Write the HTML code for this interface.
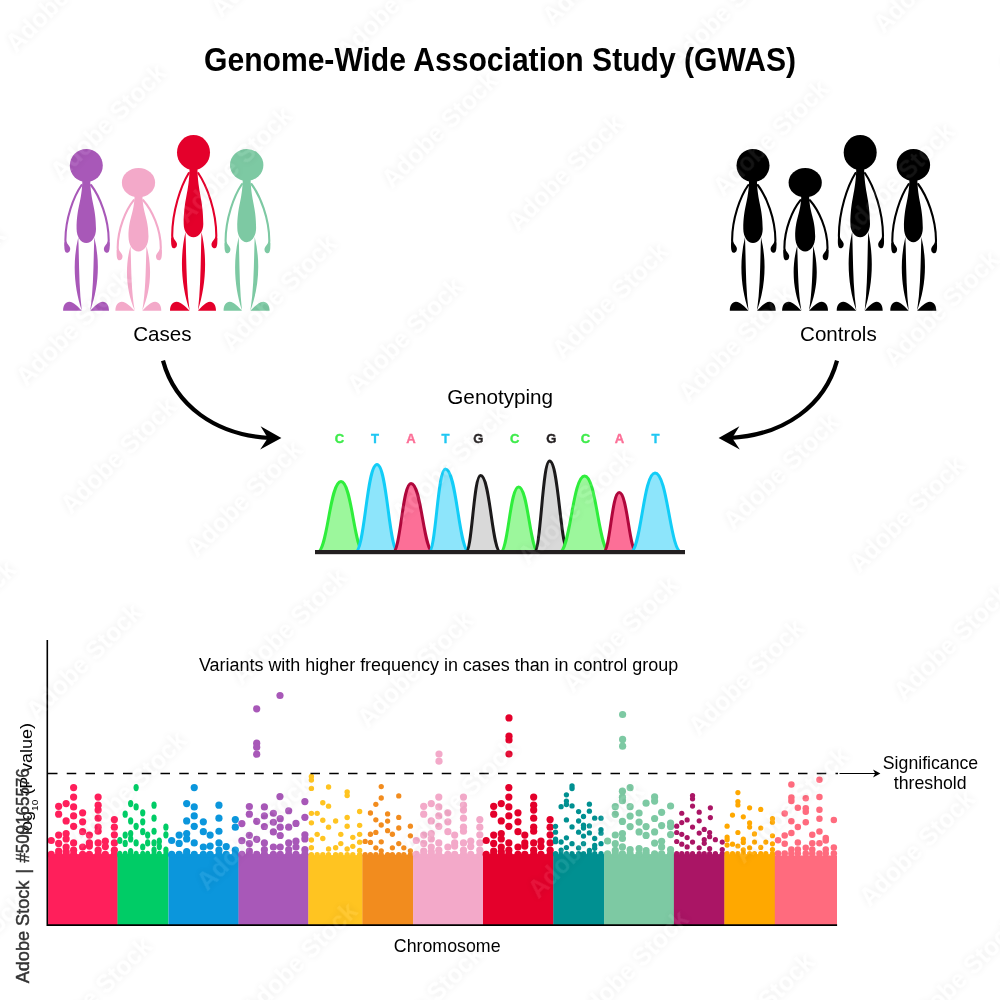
<!DOCTYPE html>
<html lang="en"><head><meta charset="utf-8"><title>Genome-Wide Association Study (GWAS)</title>
<style>html,body{margin:0;padding:0;background:#fff}body{width:1000px;height:1000px;overflow:hidden}svg{display:block}text{font-family:'Liberation Sans', sans-serif}</style></head><body>
<svg width="1000" height="1000" viewBox="0 0 1000 1000">
<rect width="1000" height="1000" fill="#fff"/>
<text x="500" y="70.7" font-size="33" font-weight="bold" text-anchor="middle" fill="#000" textLength="592" lengthAdjust="spacingAndGlyphs">Genome-Wide Association Study (GWAS)</text>
<g fill="#A858B8"><ellipse cx="86.3" cy="165.5" rx="16.5" ry="16.5"/><path d="M82.4,180 C81.9,202.05 76.6,206.95 76.6,229 C76.6,236.84 80.87,243 86.3,243 C91.73,243 96,236.84 96,229 C96,206.95 90.7,202.05 90.2,180 Z"/><path d="M81.6,185 C73.5,196.55 65.5,218.55 65.4,240 L65.7,245.5" fill="none" stroke="#A858B8" stroke-width="2.1" stroke-linecap="round"/><path d="M64.45,242.5 C64.15,247.5 64.25,252.8 67.05,252.8 C69.45,252.8 70.65,250 70.05,247.7 C69.45,245.5 67.05,244 66.35,241.5 Z"/><path d="M91,185 C99.9,196.55 108.6,218.55 108.7,240 L108.4,245.5" fill="none" stroke="#A858B8" stroke-width="2.1" stroke-linecap="round"/><path d="M109.65,242.5 C109.95,247.5 109.85,252.8 107.05,252.8 C104.65,252.8 103.45,250 104.05,247.7 C104.65,245.5 107.05,244 107.75,241.5 Z"/><path d="M78.3,237.3 C72,262.86 74.5,289.28 81.8,310.4 C78.8,286.42 79.2,260.72 78.3,237.3 Z"/><path d="M63.1,310.7 C63.1,305.2 65.53,301.7 69.27,301.7 C73.95,301.7 78.06,307.1 81.8,310.7 Z"/><path d="M94.3,237.3 C100.6,262.86 98.1,289.28 90.3,310.4 C93.8,286.42 93.4,260.72 94.3,237.3 Z"/><path d="M109,310.7 C109,305.2 106.57,301.7 102.83,301.7 C98.15,301.7 94.04,307.1 90.3,310.7 Z"/></g><g fill="#F3A9C9"><ellipse cx="138.5" cy="182.7" rx="16.6" ry="14.7"/><path d="M134.6,195.4 C134.1,213.9 128.5,218 128.5,236.5 C128.5,244.9 132.9,251.5 138.5,251.5 C144.1,251.5 148.5,244.9 148.5,236.5 C148.5,218 142.9,213.9 142.4,195.4 Z"/><path d="M133.8,200.2 C125.7,210.13 117.8,229.05 117.7,247.5 L118,253" fill="none" stroke="#F3A9C9" stroke-width="2.1" stroke-linecap="round"/><path d="M116.75,250 C116.45,255 116.55,260.3 119.35,260.3 C121.75,260.3 122.95,257.5 122.35,255.2 C121.75,253 119.35,251.5 118.65,249 Z"/><path d="M143.2,200.2 C152.1,210.13 160.7,229.05 160.8,247.5 L160.5,253" fill="none" stroke="#F3A9C9" stroke-width="2.1" stroke-linecap="round"/><path d="M161.75,250 C162.05,255 161.95,260.3 159.15,260.3 C156.75,260.3 155.55,257.5 156.15,255.2 C156.75,253 159.15,251.5 159.85,249 Z"/><path d="M130.5,246 C124.2,268.69 126.7,291.89 134.7,310.4 C131,289.38 131.4,266.81 130.5,246 Z"/><path d="M115.4,310.7 C115.4,305.2 117.91,301.7 121.77,301.7 C126.59,301.7 130.84,307.1 134.7,310.7 Z"/><path d="M146.5,246 C152.8,268.69 150.3,291.89 142.3,310.4 C146,289.38 145.6,266.81 146.5,246 Z"/><path d="M161.3,310.7 C161.3,305.2 158.83,301.7 155.03,301.7 C150.28,301.7 146.1,307.1 142.3,310.7 Z"/></g><g fill="#E4002B"><ellipse cx="193.5" cy="152.5" rx="16.5" ry="17.5"/><path d="M189.6,168 C189.1,193.2 183.7,198.8 183.7,224 C183.7,231.39 188.01,237.2 193.5,237.2 C198.99,237.2 203.3,231.39 203.3,224 C203.3,198.8 197.9,193.2 197.4,168 Z"/><path d="M188.8,173 C180.7,186.12 172.3,211.12 172.2,235.5 L172.5,241" fill="none" stroke="#E4002B" stroke-width="2.1" stroke-linecap="round"/><path d="M171.25,238 C170.95,243 171.05,248.3 173.85,248.3 C176.25,248.3 177.45,245.5 176.85,243.2 C176.25,241 173.85,239.5 173.15,237 Z"/><path d="M198.2,173 C207.1,186.12 216.2,211.12 216.3,235.5 L216,241" fill="none" stroke="#E4002B" stroke-width="2.1" stroke-linecap="round"/><path d="M217.25,238 C217.55,243 217.45,248.3 214.65,248.3 C212.25,248.3 211.05,245.5 211.65,243.2 C212.25,241 214.65,239.5 215.35,237 Z"/><path d="M185.5,232 C179.2,259.31 181.7,287.69 189.6,310.4 C186,284.62 186.4,257.01 185.5,232 Z"/><path d="M170,310.7 C170,305.2 172.55,301.7 176.47,301.7 C181.37,301.7 185.68,307.1 189.6,310.7 Z"/><path d="M201.5,232 C207.8,259.31 205.3,287.69 198,310.4 C201,284.62 200.6,257.01 201.5,232 Z"/><path d="M216,310.7 C216,305.2 213.66,301.7 210.06,301.7 C205.56,301.7 201.6,307.1 198,310.7 Z"/></g><g fill="#7DC9A3"><ellipse cx="246.7" cy="165" rx="16.7" ry="16"/><path d="M242.8,179 C242.3,201.05 237.3,205.95 237.3,228 C237.3,235.95 241.44,242.2 246.7,242.2 C251.96,242.2 256.1,235.95 256.1,228 C256.1,205.95 251.1,201.05 250.6,179 Z"/><path d="M242,184 C233.9,195.87 225.7,218.47 225.6,240.5 L225.9,246" fill="none" stroke="#7DC9A3" stroke-width="2.1" stroke-linecap="round"/><path d="M224.65,243 C224.35,248 224.45,253.3 227.25,253.3 C229.65,253.3 230.85,250.5 230.25,248.2 C229.65,246 227.25,244.5 226.55,242 Z"/><path d="M251.4,184 C260.3,195.87 269.2,218.47 269.3,240.5 L269,246" fill="none" stroke="#7DC9A3" stroke-width="2.1" stroke-linecap="round"/><path d="M270.25,243 C270.55,248 270.45,253.3 267.65,253.3 C265.25,253.3 264.05,250.5 264.65,248.2 C265.25,246 267.65,244.5 268.35,242 Z"/><path d="M238.7,237 C232.4,262.66 234.9,289.19 242,310.4 C239.2,286.32 239.6,260.51 238.7,237 Z"/><path d="M223.6,310.7 C223.6,305.2 225.99,301.7 229.67,301.7 C234.27,301.7 238.32,307.1 242,310.7 Z"/><path d="M254.7,237 C261,262.66 258.5,289.19 250.4,310.4 C254.2,286.32 253.8,260.51 254.7,237 Z"/><path d="M269.6,310.7 C269.6,305.2 267.1,301.7 263.26,301.7 C258.46,301.7 254.24,307.1 250.4,310.7 Z"/></g>
<g fill="#000"><ellipse cx="753" cy="165.5" rx="16.5" ry="16.5"/><path d="M749.1,180 C748.6,202.05 743.3,206.95 743.3,229 C743.3,236.84 747.57,243 753,243 C758.43,243 762.7,236.84 762.7,229 C762.7,206.95 757.4,202.05 756.9,180 Z"/><path d="M748.3,185 C740.2,196.55 732.2,218.55 732.1,240 L732.4,245.5" fill="none" stroke="#000" stroke-width="2.1" stroke-linecap="round"/><path d="M731.15,242.5 C730.85,247.5 730.95,252.8 733.75,252.8 C736.15,252.8 737.35,250 736.75,247.7 C736.15,245.5 733.75,244 733.05,241.5 Z"/><path d="M757.7,185 C766.6,196.55 775.3,218.55 775.4,240 L775.1,245.5" fill="none" stroke="#000" stroke-width="2.1" stroke-linecap="round"/><path d="M776.35,242.5 C776.65,247.5 776.55,252.8 773.75,252.8 C771.35,252.8 770.15,250 770.75,247.7 C771.35,245.5 773.75,244 774.45,241.5 Z"/><path d="M745,237.3 C738.7,262.86 741.2,289.28 748.5,310.4 C745.5,286.42 745.9,260.72 745,237.3 Z"/><path d="M729.8,310.7 C729.8,305.2 732.23,301.7 735.97,301.7 C740.65,301.7 744.76,307.1 748.5,310.7 Z"/><path d="M761,237.3 C767.3,262.86 764.8,289.28 757,310.4 C760.5,286.42 760.1,260.72 761,237.3 Z"/><path d="M775.7,310.7 C775.7,305.2 773.27,301.7 769.53,301.7 C764.85,301.7 760.74,307.1 757,310.7 Z"/></g><g fill="#000"><ellipse cx="805.2" cy="182.7" rx="16.6" ry="14.7"/><path d="M801.3,195.4 C800.8,213.9 795.2,218 795.2,236.5 C795.2,244.9 799.6,251.5 805.2,251.5 C810.8,251.5 815.2,244.9 815.2,236.5 C815.2,218 809.6,213.9 809.1,195.4 Z"/><path d="M800.5,200.2 C792.4,210.13 784.5,229.05 784.4,247.5 L784.7,253" fill="none" stroke="#000" stroke-width="2.1" stroke-linecap="round"/><path d="M783.45,250 C783.15,255 783.25,260.3 786.05,260.3 C788.45,260.3 789.65,257.5 789.05,255.2 C788.45,253 786.05,251.5 785.35,249 Z"/><path d="M809.9,200.2 C818.8,210.13 827.4,229.05 827.5,247.5 L827.2,253" fill="none" stroke="#000" stroke-width="2.1" stroke-linecap="round"/><path d="M828.45,250 C828.75,255 828.65,260.3 825.85,260.3 C823.45,260.3 822.25,257.5 822.85,255.2 C823.45,253 825.85,251.5 826.55,249 Z"/><path d="M797.2,246 C790.9,268.69 793.4,291.89 801.4,310.4 C797.7,289.38 798.1,266.81 797.2,246 Z"/><path d="M782.1,310.7 C782.1,305.2 784.61,301.7 788.47,301.7 C793.29,301.7 797.54,307.1 801.4,310.7 Z"/><path d="M813.2,246 C819.5,268.69 817,291.89 809,310.4 C812.7,289.38 812.3,266.81 813.2,246 Z"/><path d="M828,310.7 C828,305.2 825.53,301.7 821.73,301.7 C816.98,301.7 812.8,307.1 809,310.7 Z"/></g><g fill="#000"><ellipse cx="860.2" cy="152.5" rx="16.5" ry="17.5"/><path d="M856.3,168 C855.8,193.2 850.4,198.8 850.4,224 C850.4,231.39 854.71,237.2 860.2,237.2 C865.69,237.2 870,231.39 870,224 C870,198.8 864.6,193.2 864.1,168 Z"/><path d="M855.5,173 C847.4,186.12 839,211.12 838.9,235.5 L839.2,241" fill="none" stroke="#000" stroke-width="2.1" stroke-linecap="round"/><path d="M837.95,238 C837.65,243 837.75,248.3 840.55,248.3 C842.95,248.3 844.15,245.5 843.55,243.2 C842.95,241 840.55,239.5 839.85,237 Z"/><path d="M864.9,173 C873.8,186.12 882.9,211.12 883,235.5 L882.7,241" fill="none" stroke="#000" stroke-width="2.1" stroke-linecap="round"/><path d="M883.95,238 C884.25,243 884.15,248.3 881.35,248.3 C878.95,248.3 877.75,245.5 878.35,243.2 C878.95,241 881.35,239.5 882.05,237 Z"/><path d="M852.2,232 C845.9,259.31 848.4,287.69 856.3,310.4 C852.7,284.62 853.1,257.01 852.2,232 Z"/><path d="M836.7,310.7 C836.7,305.2 839.25,301.7 843.17,301.7 C848.07,301.7 852.38,307.1 856.3,310.7 Z"/><path d="M868.2,232 C874.5,259.31 872,287.69 864.7,310.4 C867.7,284.62 867.3,257.01 868.2,232 Z"/><path d="M882.7,310.7 C882.7,305.2 880.36,301.7 876.76,301.7 C872.26,301.7 868.3,307.1 864.7,310.7 Z"/></g><g fill="#000"><ellipse cx="913.4" cy="165" rx="16.7" ry="16"/><path d="M909.5,179 C909,201.05 904,205.95 904,228 C904,235.95 908.14,242.2 913.4,242.2 C918.66,242.2 922.8,235.95 922.8,228 C922.8,205.95 917.8,201.05 917.3,179 Z"/><path d="M908.7,184 C900.6,195.87 892.4,218.47 892.3,240.5 L892.6,246" fill="none" stroke="#000" stroke-width="2.1" stroke-linecap="round"/><path d="M891.35,243 C891.05,248 891.15,253.3 893.95,253.3 C896.35,253.3 897.55,250.5 896.95,248.2 C896.35,246 893.95,244.5 893.25,242 Z"/><path d="M918.1,184 C927,195.87 935.9,218.47 936,240.5 L935.7,246" fill="none" stroke="#000" stroke-width="2.1" stroke-linecap="round"/><path d="M936.95,243 C937.25,248 937.15,253.3 934.35,253.3 C931.95,253.3 930.75,250.5 931.35,248.2 C931.95,246 934.35,244.5 935.05,242 Z"/><path d="M905.4,237 C899.1,262.66 901.6,289.19 908.7,310.4 C905.9,286.32 906.3,260.51 905.4,237 Z"/><path d="M890.3,310.7 C890.3,305.2 892.69,301.7 896.37,301.7 C900.97,301.7 905.02,307.1 908.7,310.7 Z"/><path d="M921.4,237 C927.7,262.66 925.2,289.19 917.1,310.4 C920.9,286.32 920.5,260.51 921.4,237 Z"/><path d="M936.3,310.7 C936.3,305.2 933.8,301.7 929.96,301.7 C925.16,301.7 920.94,307.1 917.1,310.7 Z"/></g>
<text x="162.4" y="341.2" font-size="20.6" text-anchor="middle" fill="#000">Cases</text>
<text x="838.4" y="341.2" font-size="20.6" text-anchor="middle" fill="#000">Controls</text>
<text x="500.2" y="403.8" font-size="20.7" text-anchor="middle" fill="#000">Genotyping</text>
<path d="M163,360.6 C175,405 215,435 270,438" fill="none" stroke="#000" stroke-width="4.2"/>
<path d="M281.4,438 L260.6,426.2 L267.8,438 L260.2,449.4 Z" fill="#000"/>
<path d="M837,360.6 C825,405 785,435 730,438" fill="none" stroke="#000" stroke-width="4.2"/>
<path d="M718.6,438 L739.4,426.2 L732.2,438 L739.8,449.4 Z" fill="#000"/>
<path d="M317.2,552.5 C327.67,552.5 329.58,481.5 341,481.5 C352.18,481.5 354.05,552.5 364.3,552.5" fill="#9CF79C" stroke="#2FEE3C" stroke-width="3" stroke-linejoin="round"/>
<path d="M355.2,552.5 C364.79,552.5 366.54,464.5 377,464.5 C387.22,464.5 388.93,552.5 398.3,552.5" fill="#8DE5FB" stroke="#12CDF7" stroke-width="3" stroke-linejoin="round"/>
<path d="M392.7,552.5 C400.75,552.5 402.22,483.5 411,483.5 C421.7,483.5 423.49,552.5 433.3,552.5" fill="#FC6F97" stroke="#B0073C" stroke-width="3" stroke-linejoin="round"/>
<path d="M428.7,552.5 C436.05,552.5 437.38,468.9 445.4,468.9 C456.87,468.9 458.78,552.5 469.3,552.5" fill="#8DE5FB" stroke="#12CDF7" stroke-width="3" stroke-linejoin="round"/>
<path d="M465.7,552.5 C472.26,552.5 473.45,475.5 480.6,475.5 C490.3,475.5 491.91,552.5 500.8,552.5" fill="#D9D9D9" stroke="#1C1A1B" stroke-width="3" stroke-linejoin="round"/>
<path d="M500.2,552.5 C508.3,552.5 509.77,487.1 518.6,487.1 C528.3,487.1 529.91,552.5 538.8,552.5" fill="#9CF79C" stroke="#2FEE3C" stroke-width="3" stroke-linejoin="round"/>
<path d="M534.2,552.5 C540.98,552.5 542.21,461.1 549.6,461.1 C558.82,461.1 560.35,552.5 568.8,552.5" fill="#D9D9D9" stroke="#1C1A1B" stroke-width="3" stroke-linejoin="round"/>
<path d="M559.2,552.5 C570.38,552.5 572.41,475.9 584.6,475.9 C596.7,475.9 598.71,552.5 609.8,552.5" fill="#9CF79C" stroke="#2FEE3C" stroke-width="3" stroke-linejoin="round"/>
<path d="M603.2,552.5 C610.24,552.5 611.52,492.5 619.2,492.5 C627.65,492.5 629.06,552.5 636.8,552.5" fill="#FC6F97" stroke="#B0073C" stroke-width="3" stroke-linejoin="round"/>
<path d="M630.2,552.5 C641.11,552.5 643.1,473.1 655,473.1 C667.86,473.1 670.01,552.5 681.8,552.5" fill="#8DE5FB" stroke="#12CDF7" stroke-width="3" stroke-linejoin="round"/>
<rect x="315" y="550" width="370" height="4.2" fill="#231F20"/>
<text x="339.4" y="442.7" font-size="13.1" font-weight="bold" text-anchor="middle" fill="#3DEB4A" stroke="#3DEB4A" stroke-width="0.35">C</text>
<text x="375" y="442.7" font-size="13.1" font-weight="bold" text-anchor="middle" fill="#1FC7F2" stroke="#1FC7F2" stroke-width="0.35">T</text>
<text x="411" y="442.7" font-size="13.1" font-weight="bold" text-anchor="middle" fill="#FC6F97" stroke="#FC6F97" stroke-width="0.35">A</text>
<text x="445.4" y="442.7" font-size="13.1" font-weight="bold" text-anchor="middle" fill="#1FC7F2" stroke="#1FC7F2" stroke-width="0.35">T</text>
<text x="478.4" y="442.7" font-size="13.1" font-weight="bold" text-anchor="middle" fill="#231F20" stroke="#231F20" stroke-width="0.35">G</text>
<text x="514.8" y="442.7" font-size="13.1" font-weight="bold" text-anchor="middle" fill="#3DEB4A" stroke="#3DEB4A" stroke-width="0.35">C</text>
<text x="551.4" y="442.7" font-size="13.1" font-weight="bold" text-anchor="middle" fill="#231F20" stroke="#231F20" stroke-width="0.35">G</text>
<text x="585.6" y="442.7" font-size="13.1" font-weight="bold" text-anchor="middle" fill="#3DEB4A" stroke="#3DEB4A" stroke-width="0.35">C</text>
<text x="619.4" y="442.7" font-size="13.1" font-weight="bold" text-anchor="middle" fill="#FC6F97" stroke="#FC6F97" stroke-width="0.35">A</text>
<text x="655.4" y="442.7" font-size="13.1" font-weight="bold" text-anchor="middle" fill="#1FC7F2" stroke="#1FC7F2" stroke-width="0.35">T</text>
<text x="438.6" y="671" font-size="17.95" text-anchor="middle" fill="#000">Variants with higher frequency in cases than in control group</text>
<g fill="#FF1F5B"><rect x="48.1" y="854.1" width="69.7" height="70.9"/><circle cx="73.61" cy="787.6" r="3.6"/><circle cx="73.61" cy="797.05" r="3.6"/><circle cx="98.12" cy="797.05" r="3.6"/><circle cx="66.13" cy="803.62" r="3.6"/><circle cx="58.65" cy="806.32" r="3.6"/><circle cx="73.61" cy="806.95" r="3.6"/><circle cx="98.12" cy="805.15" r="3.6"/><circle cx="98.12" cy="810.1" r="3.6"/><circle cx="58.65" cy="814.15" r="3.6"/><circle cx="82.62" cy="812.8" r="3.6"/><circle cx="73.61" cy="815.95" r="3.6"/><circle cx="98.12" cy="818.2" r="3.6"/><circle cx="66.13" cy="820.9" r="3.6"/><circle cx="114.35" cy="819.55" r="3.6"/><circle cx="82.62" cy="821.8" r="3.6"/><circle cx="73.61" cy="826.3" r="3.6"/><circle cx="98.12" cy="827.2" r="3.6"/><circle cx="114.35" cy="827.2" r="3.6"/><circle cx="82.62" cy="831.7" r="3.6"/><circle cx="98.12" cy="831.25" r="3.6"/><circle cx="66.13" cy="833.5" r="3.6"/><circle cx="58.65" cy="835.12" r="3.6"/><circle cx="89.38" cy="835.12" r="3.6"/><circle cx="114.35" cy="834.85" r="3.6"/><circle cx="66.13" cy="838.9" r="3.6"/><circle cx="51.25" cy="840.52" r="3.6"/><circle cx="105.33" cy="841.15" r="3.6"/><circle cx="58.65" cy="843.4" r="3.6"/><circle cx="73.61" cy="842.95" r="3.6"/><circle cx="89.38" cy="842.95" r="3.6"/><circle cx="98.12" cy="842.95" r="3.6"/><circle cx="114.35" cy="842.95" r="3.6"/><circle cx="66.13" cy="847" r="3.6"/><circle cx="82.62" cy="847" r="3.6"/><circle cx="89.38" cy="846.1" r="3.6"/><circle cx="105.33" cy="846.55" r="3.6"/><circle cx="58.65" cy="851.05" r="3.6"/><circle cx="73.61" cy="850.15" r="3.6"/><circle cx="98.12" cy="850.15" r="3.6"/><circle cx="114.35" cy="850.15" r="3.6"/><circle cx="66.13" cy="851.5" r="3.6"/><circle cx="51.25" cy="854.38" r="3.6"/><circle cx="58.65" cy="854.38" r="3.6"/><circle cx="66.13" cy="854.38" r="3.6"/><circle cx="73.61" cy="854.38" r="3.6"/><circle cx="82.62" cy="854.38" r="3.6"/><circle cx="89.38" cy="854.38" r="3.6"/><circle cx="98.12" cy="854.38" r="3.6"/><circle cx="105.33" cy="854.38" r="3.6"/><circle cx="114.35" cy="854.38" r="3.6"/></g>
<g fill="#00CC66"><rect x="117.5" y="854.1" width="51" height="70.9"/><ellipse cx="136.13" cy="787.6" rx="2.63" ry="3.6"/><ellipse cx="130.67" cy="803.62" rx="2.63" ry="3.6"/><ellipse cx="136.13" cy="806.95" rx="2.63" ry="3.6"/><ellipse cx="154.04" cy="805.15" rx="2.63" ry="3.6"/><ellipse cx="125.2" cy="814.15" rx="2.63" ry="3.6"/><ellipse cx="142.72" cy="812.8" rx="2.63" ry="3.6"/><ellipse cx="154.04" cy="818.2" rx="2.63" ry="3.6"/><ellipse cx="130.67" cy="820.9" rx="2.63" ry="3.6"/><ellipse cx="142.72" cy="821.8" rx="2.63" ry="3.6"/><ellipse cx="136.13" cy="826.3" rx="2.63" ry="3.6"/><ellipse cx="165.9" cy="827.2" rx="2.63" ry="3.6"/><ellipse cx="142.72" cy="831.7" rx="2.63" ry="3.6"/><ellipse cx="154.04" cy="831.25" rx="2.63" ry="3.6"/><ellipse cx="130.67" cy="833.5" rx="2.63" ry="3.6"/><ellipse cx="125.2" cy="835.12" rx="2.63" ry="3.6"/><ellipse cx="147.66" cy="835.12" rx="2.63" ry="3.6"/><ellipse cx="165.9" cy="834.85" rx="2.63" ry="3.6"/><ellipse cx="130.67" cy="838.9" rx="2.63" ry="3.6"/><ellipse cx="119.8" cy="840.52" rx="2.63" ry="3.6"/><ellipse cx="159.31" cy="841.15" rx="2.63" ry="3.6"/><ellipse cx="125.2" cy="843.4" rx="2.63" ry="3.6"/><ellipse cx="136.13" cy="842.95" rx="2.63" ry="3.6"/><ellipse cx="147.66" cy="842.95" rx="2.63" ry="3.6"/><ellipse cx="154.04" cy="842.95" rx="2.63" ry="3.6"/><ellipse cx="142.72" cy="847" rx="2.63" ry="3.6"/><ellipse cx="159.31" cy="846.55" rx="2.63" ry="3.6"/><ellipse cx="154.04" cy="850.15" rx="2.63" ry="3.6"/><ellipse cx="165.9" cy="850.15" rx="2.63" ry="3.6"/><ellipse cx="130.67" cy="851.5" rx="2.63" ry="3.6"/><ellipse cx="119.8" cy="854.38" rx="2.63" ry="3.6"/><ellipse cx="125.2" cy="854.38" rx="2.63" ry="3.6"/><ellipse cx="130.67" cy="854.38" rx="2.63" ry="3.6"/><ellipse cx="136.13" cy="854.38" rx="2.63" ry="3.6"/><ellipse cx="142.72" cy="854.38" rx="2.63" ry="3.6"/><ellipse cx="147.66" cy="854.38" rx="2.63" ry="3.6"/><ellipse cx="154.04" cy="854.38" rx="2.63" ry="3.6"/><ellipse cx="159.31" cy="854.38" rx="2.63" ry="3.6"/><ellipse cx="165.9" cy="854.38" rx="2.63" ry="3.6"/></g>
<g fill="#0B96DC"><rect x="168.5" y="854.1" width="70.3" height="70.9"/><circle cx="194.23" cy="787.6" r="3.6"/><circle cx="186.68" cy="803.62" r="3.6"/><circle cx="194.23" cy="806.95" r="3.6"/><circle cx="218.95" cy="805.15" r="3.6"/><circle cx="194.23" cy="815.95" r="3.6"/><circle cx="218.95" cy="818.2" r="3.6"/><circle cx="186.68" cy="820.9" r="3.6"/><circle cx="235.32" cy="819.55" r="3.6"/><circle cx="203.32" cy="821.8" r="3.6"/><circle cx="194.23" cy="826.3" r="3.6"/><circle cx="235.32" cy="827.2" r="3.6"/><circle cx="203.32" cy="831.7" r="3.6"/><circle cx="218.95" cy="831.25" r="3.6"/><circle cx="186.68" cy="833.5" r="3.6"/><circle cx="179.14" cy="835.12" r="3.6"/><circle cx="210.14" cy="835.12" r="3.6"/><circle cx="186.68" cy="838.9" r="3.6"/><circle cx="171.68" cy="840.52" r="3.6"/><circle cx="179.14" cy="843.4" r="3.6"/><circle cx="194.23" cy="842.95" r="3.6"/><circle cx="218.95" cy="842.95" r="3.6"/><circle cx="203.32" cy="847" r="3.6"/><circle cx="210.14" cy="846.1" r="3.6"/><circle cx="226.23" cy="846.55" r="3.6"/><circle cx="218.95" cy="850.15" r="3.6"/><circle cx="235.32" cy="850.15" r="3.6"/><circle cx="186.68" cy="851.5" r="3.6"/><circle cx="171.68" cy="854.38" r="3.6"/><circle cx="179.14" cy="854.38" r="3.6"/><circle cx="186.68" cy="854.38" r="3.6"/><circle cx="194.23" cy="854.38" r="3.6"/><circle cx="203.32" cy="854.38" r="3.6"/><circle cx="210.14" cy="854.38" r="3.6"/><circle cx="218.95" cy="854.38" r="3.6"/><circle cx="226.23" cy="854.38" r="3.6"/><circle cx="235.32" cy="854.38" r="3.6"/></g>
<g fill="#A858B8"><rect x="238.5" y="854.1" width="70.1" height="70.9"/><circle cx="279.95" cy="796.6" r="3.6"/><circle cx="304.88" cy="801.55" r="3.6"/><circle cx="249.35" cy="806.5" r="3.6"/><circle cx="264.38" cy="806.95" r="3.6"/><circle cx="288.68" cy="810.73" r="3.6"/><circle cx="249.35" cy="814.15" r="3.6"/><circle cx="273.38" cy="813.25" r="3.6"/><circle cx="264.38" cy="815.95" r="3.6"/><circle cx="304.88" cy="817.3" r="3.6"/><circle cx="280.22" cy="818.65" r="3.6"/><circle cx="256.73" cy="821.35" r="3.6"/><circle cx="273.38" cy="822.25" r="3.6"/><circle cx="241.88" cy="823.6" r="3.6"/><circle cx="295.97" cy="823.42" r="3.6"/><circle cx="264.38" cy="826.48" r="3.6"/><circle cx="280.22" cy="827.2" r="3.6"/><circle cx="288.68" cy="827.2" r="3.6"/><circle cx="273.38" cy="831.88" r="3.6"/><circle cx="249.35" cy="835.3" r="3.6"/><circle cx="280.22" cy="835.48" r="3.6"/><circle cx="304.88" cy="834.85" r="3.6"/><circle cx="256.73" cy="839.35" r="3.6"/><circle cx="241.88" cy="840.7" r="3.6"/><circle cx="304.88" cy="838.9" r="3.6"/><circle cx="249.35" cy="843.58" r="3.6"/><circle cx="264.38" cy="842.95" r="3.6"/><circle cx="288.68" cy="842.95" r="3.6"/><circle cx="295.97" cy="841.15" r="3.6"/><circle cx="273.38" cy="847" r="3.6"/><circle cx="280.22" cy="847" r="3.6"/><circle cx="295.97" cy="847" r="3.6"/><circle cx="249.35" cy="851.05" r="3.6"/><circle cx="264.38" cy="849.7" r="3.6"/><circle cx="288.68" cy="849.7" r="3.6"/><circle cx="304.88" cy="849.7" r="3.6"/><circle cx="241.88" cy="854.38" r="3.6"/><circle cx="249.35" cy="854.38" r="3.6"/><circle cx="256.73" cy="854.38" r="3.6"/><circle cx="264.38" cy="854.38" r="3.6"/><circle cx="273.38" cy="854.38" r="3.6"/><circle cx="280.22" cy="854.38" r="3.6"/><circle cx="288.68" cy="854.38" r="3.6"/><circle cx="295.97" cy="854.38" r="3.6"/><circle cx="304.88" cy="854.38" r="3.6"/><circle cx="280" cy="695.5" r="3.6"/><circle cx="256.7" cy="708.8" r="3.6"/><circle cx="256.7" cy="743.2" r="3.6"/><circle cx="256.7" cy="747.2" r="3.6"/><circle cx="256.7" cy="754.2" r="3.6"/></g>
<g fill="#FFC421"><rect x="308.3" y="855.1" width="54.4" height="69.9"/><circle cx="311.4" cy="776.4" r="2.7"/><circle cx="311.4" cy="780" r="2.7"/><circle cx="311.4" cy="788.4" r="2.7"/><circle cx="328.56" cy="786.96" r="2.7"/><circle cx="347.16" cy="792" r="2.7"/><circle cx="347.16" cy="795.6" r="2.7"/><circle cx="322.8" cy="802.8" r="2.7"/><circle cx="328.56" cy="806.16" r="2.7"/><circle cx="359.64" cy="811.56" r="2.7"/><circle cx="311.4" cy="813.36" r="2.7"/><circle cx="317.16" cy="813.36" r="2.7"/><circle cx="347.16" cy="817.56" r="2.7"/><circle cx="322.8" cy="820.2" r="2.7"/><circle cx="335.64" cy="821.04" r="2.7"/><circle cx="311.4" cy="822.84" r="2.7"/><circle cx="359.64" cy="825.36" r="2.7"/><circle cx="347.16" cy="826.2" r="2.7"/><circle cx="328.56" cy="827.16" r="2.7"/><circle cx="317.16" cy="834.36" r="2.7"/><circle cx="340.8" cy="834.36" r="2.7"/><circle cx="359.64" cy="834.36" r="2.7"/><circle cx="352.8" cy="837.36" r="2.7"/><circle cx="322.8" cy="838.44" r="2.7"/><circle cx="311.4" cy="840" r="2.7"/><circle cx="359.64" cy="842.16" r="2.7"/><circle cx="340.8" cy="843.6" r="2.7"/><circle cx="352.8" cy="846.36" r="2.7"/><circle cx="311.4" cy="847.8" r="2.7"/><circle cx="335.64" cy="847.8" r="2.7"/><circle cx="328.56" cy="849" r="2.7"/><circle cx="347.16" cy="849" r="2.7"/><circle cx="359.64" cy="850.44" r="2.7"/><circle cx="311.4" cy="854.64" r="2.7"/><circle cx="317.16" cy="854.64" r="2.7"/><circle cx="322.8" cy="854.64" r="2.7"/><circle cx="328.56" cy="854.64" r="2.7"/><circle cx="335.64" cy="854.64" r="2.7"/><circle cx="340.8" cy="854.64" r="2.7"/><circle cx="347.16" cy="854.64" r="2.7"/><circle cx="352.8" cy="854.64" r="2.7"/><circle cx="359.64" cy="854.64" r="2.7"/></g>
<g fill="#F28C1E"><rect x="362.4" y="854.6" width="51" height="70.4"/><circle cx="381.24" cy="786.6" r="2.65"/><circle cx="398.76" cy="795.96" r="2.65"/><circle cx="381.24" cy="798" r="2.65"/><circle cx="375.84" cy="804.36" r="2.65"/><circle cx="370.44" cy="813" r="2.65"/><circle cx="387.6" cy="813.96" r="2.65"/><circle cx="398.76" cy="817.44" r="2.65"/><circle cx="375.84" cy="819.84" r="2.65"/><circle cx="387.6" cy="821.04" r="2.65"/><circle cx="381.24" cy="825" r="2.65"/><circle cx="410.4" cy="826.2" r="2.65"/><circle cx="398.76" cy="828" r="2.65"/><circle cx="387.6" cy="830.64" r="2.65"/><circle cx="375.84" cy="832.44" r="2.65"/><circle cx="370.44" cy="834.24" r="2.65"/><circle cx="392.4" cy="834.24" r="2.65"/><circle cx="410.4" cy="835.8" r="2.65"/><circle cx="365.16" cy="841.44" r="2.65"/><circle cx="370.44" cy="842.4" r="2.65"/><circle cx="381.24" cy="841.8" r="2.65"/><circle cx="398.76" cy="843.6" r="2.65"/><circle cx="375.84" cy="847.8" r="2.65"/><circle cx="392.4" cy="847.8" r="2.65"/><circle cx="403.8" cy="847.8" r="2.65"/><circle cx="381.24" cy="850.8" r="2.65"/><circle cx="410.4" cy="850.8" r="2.65"/><circle cx="365.16" cy="854.64" r="2.65"/><circle cx="370.44" cy="854.64" r="2.65"/><circle cx="375.84" cy="854.64" r="2.65"/><circle cx="381.24" cy="854.64" r="2.65"/><circle cx="387.6" cy="854.64" r="2.65"/><circle cx="392.4" cy="854.64" r="2.65"/><circle cx="398.76" cy="854.64" r="2.65"/><circle cx="403.8" cy="854.64" r="2.65"/><circle cx="410.4" cy="854.64" r="2.65"/></g>
<g fill="#F3A9C9"><rect x="413.1" y="854.1" width="70.2" height="70.9"/><circle cx="438.79" cy="797.05" r="3.6"/><circle cx="463.48" cy="797.05" r="3.6"/><circle cx="431.26" cy="803.62" r="3.6"/><circle cx="423.72" cy="806.32" r="3.6"/><circle cx="438.79" cy="806.95" r="3.6"/><circle cx="463.48" cy="805.15" r="3.6"/><circle cx="463.48" cy="810.1" r="3.6"/><circle cx="423.72" cy="814.15" r="3.6"/><circle cx="447.87" cy="812.8" r="3.6"/><circle cx="438.79" cy="815.95" r="3.6"/><circle cx="463.48" cy="818.2" r="3.6"/><circle cx="431.26" cy="820.9" r="3.6"/><circle cx="479.82" cy="819.55" r="3.6"/><circle cx="447.87" cy="821.8" r="3.6"/><circle cx="438.79" cy="826.3" r="3.6"/><circle cx="463.48" cy="827.2" r="3.6"/><circle cx="479.82" cy="827.2" r="3.6"/><circle cx="447.87" cy="831.7" r="3.6"/><circle cx="463.48" cy="831.25" r="3.6"/><circle cx="431.26" cy="833.5" r="3.6"/><circle cx="423.72" cy="835.12" r="3.6"/><circle cx="454.68" cy="835.12" r="3.6"/><circle cx="479.82" cy="834.85" r="3.6"/><circle cx="431.26" cy="838.9" r="3.6"/><circle cx="416.28" cy="840.52" r="3.6"/><circle cx="470.74" cy="841.15" r="3.6"/><circle cx="423.72" cy="843.4" r="3.6"/><circle cx="438.79" cy="842.95" r="3.6"/><circle cx="454.68" cy="842.95" r="3.6"/><circle cx="463.48" cy="842.95" r="3.6"/><circle cx="479.82" cy="842.95" r="3.6"/><circle cx="431.26" cy="847" r="3.6"/><circle cx="447.87" cy="847" r="3.6"/><circle cx="454.68" cy="846.1" r="3.6"/><circle cx="470.74" cy="846.55" r="3.6"/><circle cx="423.72" cy="851.05" r="3.6"/><circle cx="438.79" cy="850.15" r="3.6"/><circle cx="463.48" cy="850.15" r="3.6"/><circle cx="479.82" cy="850.15" r="3.6"/><circle cx="431.26" cy="851.5" r="3.6"/><circle cx="416.28" cy="854.38" r="3.6"/><circle cx="423.72" cy="854.38" r="3.6"/><circle cx="431.26" cy="854.38" r="3.6"/><circle cx="438.79" cy="854.38" r="3.6"/><circle cx="447.87" cy="854.38" r="3.6"/><circle cx="454.68" cy="854.38" r="3.6"/><circle cx="463.48" cy="854.38" r="3.6"/><circle cx="470.74" cy="854.38" r="3.6"/><circle cx="479.82" cy="854.38" r="3.6"/><circle cx="439" cy="754" r="3.6"/><circle cx="439" cy="761.2" r="3.6"/></g>
<g fill="#E4002B"><rect x="483" y="854.1" width="70.6" height="70.9"/><circle cx="508.84" cy="787.6" r="3.6"/><circle cx="508.84" cy="797.05" r="3.6"/><circle cx="533.67" cy="797.05" r="3.6"/><circle cx="501.26" cy="803.62" r="3.6"/><circle cx="493.68" cy="806.32" r="3.6"/><circle cx="508.84" cy="806.95" r="3.6"/><circle cx="533.67" cy="805.15" r="3.6"/><circle cx="533.67" cy="810.1" r="3.6"/><circle cx="493.68" cy="814.15" r="3.6"/><circle cx="517.97" cy="812.8" r="3.6"/><circle cx="508.84" cy="815.95" r="3.6"/><circle cx="533.67" cy="818.2" r="3.6"/><circle cx="501.26" cy="820.9" r="3.6"/><circle cx="550.1" cy="819.55" r="3.6"/><circle cx="517.97" cy="821.8" r="3.6"/><circle cx="508.84" cy="826.3" r="3.6"/><circle cx="533.67" cy="827.2" r="3.6"/><circle cx="550.1" cy="827.2" r="3.6"/><circle cx="517.97" cy="831.7" r="3.6"/><circle cx="533.67" cy="831.25" r="3.6"/><circle cx="501.26" cy="833.5" r="3.6"/><circle cx="493.68" cy="835.12" r="3.6"/><circle cx="524.81" cy="835.12" r="3.6"/><circle cx="550.1" cy="834.85" r="3.6"/><circle cx="501.26" cy="838.9" r="3.6"/><circle cx="486.2" cy="840.52" r="3.6"/><circle cx="540.97" cy="841.15" r="3.6"/><circle cx="493.68" cy="843.4" r="3.6"/><circle cx="508.84" cy="842.95" r="3.6"/><circle cx="524.81" cy="842.95" r="3.6"/><circle cx="533.67" cy="842.95" r="3.6"/><circle cx="550.1" cy="842.95" r="3.6"/><circle cx="501.26" cy="847" r="3.6"/><circle cx="517.97" cy="847" r="3.6"/><circle cx="524.81" cy="846.1" r="3.6"/><circle cx="540.97" cy="846.55" r="3.6"/><circle cx="493.68" cy="851.05" r="3.6"/><circle cx="508.84" cy="850.15" r="3.6"/><circle cx="533.67" cy="850.15" r="3.6"/><circle cx="550.1" cy="850.15" r="3.6"/><circle cx="501.26" cy="851.5" r="3.6"/><circle cx="486.2" cy="854.38" r="3.6"/><circle cx="493.68" cy="854.38" r="3.6"/><circle cx="501.26" cy="854.38" r="3.6"/><circle cx="508.84" cy="854.38" r="3.6"/><circle cx="517.97" cy="854.38" r="3.6"/><circle cx="524.81" cy="854.38" r="3.6"/><circle cx="533.67" cy="854.38" r="3.6"/><circle cx="540.97" cy="854.38" r="3.6"/><circle cx="550.1" cy="854.38" r="3.6"/><circle cx="509" cy="717.9" r="3.6"/><circle cx="509" cy="736.2" r="3.6"/><circle cx="509" cy="740" r="3.6"/><circle cx="509" cy="754" r="3.6"/></g>
<g fill="#009091"><rect x="553.3" y="854.1" width="51.1" height="70.9"/><circle cx="572.02" cy="786" r="2.65"/><circle cx="572.02" cy="788.52" r="2.65"/><circle cx="566.42" cy="794.82" r="2.65"/><circle cx="566.42" cy="801.12" r="2.65"/><circle cx="566.42" cy="804.48" r="2.65"/><circle cx="561.1" cy="806.72" r="2.65"/><circle cx="572.02" cy="805.88" r="2.65"/><circle cx="589.38" cy="804.2" r="2.65"/><circle cx="578.6" cy="811.62" r="2.65"/><circle cx="589.38" cy="811.2" r="2.65"/><circle cx="583.5" cy="816.52" r="2.65"/><circle cx="594.7" cy="818.2" r="2.65"/><circle cx="601" cy="818.2" r="2.65"/><circle cx="566.42" cy="819.88" r="2.65"/><circle cx="578.6" cy="821" r="2.65"/><circle cx="555.5" cy="826.32" r="2.65"/><circle cx="572.02" cy="826.88" r="2.65"/><circle cx="583.5" cy="825.2" r="2.65"/><circle cx="589.38" cy="825.9" r="2.65"/><circle cx="583.5" cy="828" r="2.65"/><circle cx="601" cy="829.68" r="2.65"/><circle cx="555.5" cy="832.2" r="2.65"/><circle cx="578.6" cy="832.2" r="2.65"/><circle cx="589.38" cy="832.9" r="2.65"/><circle cx="601" cy="833.18" r="2.65"/><circle cx="583.5" cy="836.12" r="2.65"/><circle cx="566.42" cy="837.8" r="2.65"/><circle cx="594.7" cy="838.5" r="2.65"/><circle cx="555.5" cy="839.2" r="2.65"/><circle cx="555.5" cy="841.72" r="2.65"/><circle cx="561.1" cy="842" r="2.65"/><circle cx="572.02" cy="843.68" r="2.65"/><circle cx="583.5" cy="843.68" r="2.65"/><circle cx="601" cy="843.68" r="2.65"/><circle cx="594.7" cy="845.5" r="2.65"/><circle cx="566.42" cy="847.6" r="2.65"/><circle cx="578.6" cy="847.88" r="2.65"/><circle cx="594.7" cy="848.3" r="2.65"/><circle cx="561.1" cy="850.12" r="2.65"/><circle cx="589.38" cy="850.4" r="2.65"/><circle cx="555.5" cy="853.76" r="2.65"/><circle cx="561.1" cy="853.76" r="2.65"/><circle cx="566.42" cy="853.76" r="2.65"/><circle cx="572.02" cy="853.76" r="2.65"/><circle cx="578.6" cy="853.76" r="2.65"/><circle cx="583.5" cy="853.76" r="2.65"/><circle cx="589.38" cy="853.76" r="2.65"/><circle cx="594.7" cy="853.76" r="2.65"/><circle cx="601" cy="853.76" r="2.65"/></g>
<g fill="#7DC9A3"><rect x="604.1" y="854.1" width="70.1" height="70.9"/><circle cx="630.12" cy="787.68" r="3.6"/><circle cx="622.42" cy="791.18" r="3.6"/><circle cx="622.42" cy="797.2" r="3.6"/><circle cx="622.42" cy="800.7" r="3.6"/><circle cx="654.62" cy="796.92" r="3.6"/><circle cx="654.62" cy="801.12" r="3.6"/><circle cx="646.08" cy="803.22" r="3.6"/><circle cx="615.28" cy="806.72" r="3.6"/><circle cx="630.12" cy="806.72" r="3.6"/><circle cx="670.58" cy="806.02" r="3.6"/><circle cx="639.08" cy="813.02" r="3.6"/><circle cx="661.62" cy="812.32" r="3.6"/><circle cx="615.28" cy="814.28" r="3.6"/><circle cx="630.12" cy="816.1" r="3.6"/><circle cx="654.62" cy="818.48" r="3.6"/><circle cx="622.42" cy="821.42" r="3.6"/><circle cx="639.08" cy="822.12" r="3.6"/><circle cx="670.58" cy="823.1" r="3.6"/><circle cx="630.12" cy="826.6" r="3.6"/><circle cx="646.08" cy="826.6" r="3.6"/><circle cx="661.62" cy="825.62" r="3.6"/><circle cx="670.58" cy="826.6" r="3.6"/><circle cx="639.08" cy="831.92" r="3.6"/><circle cx="654.62" cy="831.92" r="3.6"/><circle cx="622.42" cy="833.6" r="3.6"/><circle cx="615.28" cy="835" r="3.6"/><circle cx="646.08" cy="835.42" r="3.6"/><circle cx="670.58" cy="834.58" r="3.6"/><circle cx="622.42" cy="838.5" r="3.6"/><circle cx="607.58" cy="841.02" r="3.6"/><circle cx="661.62" cy="841.3" r="3.6"/><circle cx="615.28" cy="843.68" r="3.6"/><circle cx="654.62" cy="843.12" r="3.6"/><circle cx="622.42" cy="846.9" r="3.6"/><circle cx="661.62" cy="846.9" r="3.6"/><circle cx="615.28" cy="850.4" r="3.6"/><circle cx="630.12" cy="849.7" r="3.6"/><circle cx="639.08" cy="848.58" r="3.6"/><circle cx="646.08" cy="850.68" r="3.6"/><circle cx="670.58" cy="849.7" r="3.6"/><circle cx="607.58" cy="853.76" r="3.6"/><circle cx="615.28" cy="853.76" r="3.6"/><circle cx="622.42" cy="853.76" r="3.6"/><circle cx="630.12" cy="853.76" r="3.6"/><circle cx="639.08" cy="853.76" r="3.6"/><circle cx="646.08" cy="853.76" r="3.6"/><circle cx="654.62" cy="853.76" r="3.6"/><circle cx="661.62" cy="853.76" r="3.6"/><circle cx="670.58" cy="853.76" r="3.6"/><circle cx="622.6" cy="714.5" r="3.6"/><circle cx="622.6" cy="739.4" r="3.6"/><circle cx="622.6" cy="746.2" r="3.6"/></g>
<g fill="#AA1565"><rect x="673.9" y="854.1" width="50.8" height="70.9"/><circle cx="692.54" cy="795.6" r="2.6"/><circle cx="692.54" cy="798.84" r="2.6"/><circle cx="692.54" cy="806.04" r="2.6"/><circle cx="710.36" cy="807.84" r="2.6"/><circle cx="681.74" cy="813.24" r="2.6"/><circle cx="699.2" cy="812.16" r="2.6"/><circle cx="710.36" cy="817.56" r="2.6"/><circle cx="687.14" cy="819.9" r="2.6"/><circle cx="699.2" cy="820.8" r="2.6"/><circle cx="681.74" cy="822.6" r="2.6"/><circle cx="676.7" cy="826.2" r="2.6"/><circle cx="692.54" cy="827.1" r="2.6"/><circle cx="704.24" cy="829.44" r="2.6"/><circle cx="676.7" cy="832.5" r="2.6"/><circle cx="699.2" cy="833.04" r="2.6"/><circle cx="681.74" cy="834.3" r="2.6"/><circle cx="709.64" cy="832.5" r="2.6"/><circle cx="687.14" cy="837.54" r="2.6"/><circle cx="709.64" cy="836.64" r="2.6"/><circle cx="704.24" cy="839.7" r="2.6"/><circle cx="715.4" cy="839.7" r="2.6"/><circle cx="676.7" cy="841.5" r="2.6"/><circle cx="692.54" cy="842.04" r="2.6"/><circle cx="704.24" cy="843.3" r="2.6"/><circle cx="722.24" cy="842.04" r="2.6"/><circle cx="681.74" cy="844.2" r="2.6"/><circle cx="687.14" cy="846.9" r="2.6"/><circle cx="699.2" cy="847.8" r="2.6"/><circle cx="709.64" cy="848.7" r="2.6"/><circle cx="722.24" cy="849.6" r="2.6"/><circle cx="676.7" cy="853.56" r="2.6"/><circle cx="681.74" cy="853.56" r="2.6"/><circle cx="687.14" cy="853.56" r="2.6"/><circle cx="692.54" cy="853.56" r="2.6"/><circle cx="699.2" cy="853.56" r="2.6"/><circle cx="704.24" cy="853.56" r="2.6"/><circle cx="709.64" cy="853.56" r="2.6"/><circle cx="715.4" cy="853.56" r="2.6"/><circle cx="722.24" cy="853.56" r="2.6"/></g>
<g fill="#FFA800"><rect x="724.4" y="854.1" width="50.7" height="70.9"/><circle cx="737.9" cy="792.54" r="2.6"/><circle cx="737.9" cy="801.54" r="2.6"/><circle cx="737.9" cy="804.96" r="2.6"/><circle cx="749.6" cy="807.84" r="2.6"/><circle cx="760.76" cy="809.46" r="2.6"/><circle cx="732.5" cy="815.04" r="2.6"/><circle cx="743.3" cy="816.84" r="2.6"/><circle cx="772.46" cy="818.64" r="2.6"/><circle cx="772.46" cy="822.24" r="2.6"/><circle cx="749.6" cy="822.96" r="2.6"/><circle cx="749.6" cy="827.1" r="2.6"/><circle cx="727.1" cy="826.2" r="2.6"/><circle cx="760.76" cy="828" r="2.6"/><circle cx="737.9" cy="832.5" r="2.6"/><circle cx="754.46" cy="833.94" r="2.6"/><circle cx="772.46" cy="835.74" r="2.6"/><circle cx="727.1" cy="837" r="2.6"/><circle cx="727.1" cy="839.7" r="2.6"/><circle cx="743.3" cy="839.16" r="2.6"/><circle cx="743.3" cy="842.4" r="2.6"/><circle cx="754.46" cy="842.04" r="2.6"/><circle cx="765.8" cy="842.04" r="2.6"/><circle cx="727.1" cy="845.1" r="2.6"/><circle cx="732.5" cy="844.2" r="2.6"/><circle cx="737.9" cy="846" r="2.6"/><circle cx="772.46" cy="843.84" r="2.6"/><circle cx="749.6" cy="847.8" r="2.6"/><circle cx="760.76" cy="847.44" r="2.6"/><circle cx="772.46" cy="849.6" r="2.6"/><circle cx="743.3" cy="849.96" r="2.6"/><circle cx="727.1" cy="853.56" r="2.6"/><circle cx="732.5" cy="853.56" r="2.6"/><circle cx="737.9" cy="853.56" r="2.6"/><circle cx="743.3" cy="853.56" r="2.6"/><circle cx="749.6" cy="853.56" r="2.6"/><circle cx="754.46" cy="853.56" r="2.6"/><circle cx="760.76" cy="853.56" r="2.6"/><circle cx="765.8" cy="853.56" r="2.6"/><circle cx="772.46" cy="853.56" r="2.6"/></g>
<g fill="#FF6B7E"><rect x="774.8" y="855.5" width="62.2" height="69.5"/><circle cx="819.44" cy="779.76" r="3.25"/><circle cx="791.36" cy="784.44" r="3.25"/><circle cx="791.36" cy="797.4" r="3.25"/><circle cx="791.36" cy="801" r="3.25"/><circle cx="805.76" cy="798.3" r="3.25"/><circle cx="819.44" cy="797.04" r="3.25"/><circle cx="797.84" cy="807.66" r="3.25"/><circle cx="805.76" cy="808.2" r="3.25"/><circle cx="805.76" cy="811.8" r="3.25"/><circle cx="819.44" cy="809.64" r="3.25"/><circle cx="784.7" cy="813.6" r="3.25"/><circle cx="819.44" cy="818.64" r="3.25"/><circle cx="833.84" cy="819.9" r="3.25"/><circle cx="791.36" cy="821.34" r="3.25"/><circle cx="805.76" cy="822.24" r="3.25"/><circle cx="797.84" cy="827.1" r="3.25"/><circle cx="819.44" cy="831.6" r="3.25"/><circle cx="791.36" cy="833.04" r="3.25"/><circle cx="784.7" cy="835.56" r="3.25"/><circle cx="812.24" cy="834.66" r="3.25"/><circle cx="778.04" cy="840.24" r="3.25"/><circle cx="825.74" cy="837.9" r="3.25"/><circle cx="825.74" cy="840.6" r="3.25"/><circle cx="784.7" cy="843.66" r="3.25"/><circle cx="797.84" cy="842.4" r="3.25"/><circle cx="812.24" cy="843.3" r="3.25"/><circle cx="819.44" cy="843.3" r="3.25"/><circle cx="805.76" cy="847.8" r="3.25"/><circle cx="833.84" cy="847.44" r="3.25"/><circle cx="791.36" cy="849.6" r="3.25"/><circle cx="797.84" cy="849.6" r="3.25"/><circle cx="812.24" cy="849.6" r="3.25"/><circle cx="825.74" cy="849.6" r="3.25"/><circle cx="778.04" cy="853.56" r="3.25"/><circle cx="784.7" cy="853.56" r="3.25"/><circle cx="791.36" cy="853.56" r="3.25"/><circle cx="797.84" cy="853.56" r="3.25"/><circle cx="805.76" cy="853.56" r="3.25"/><circle cx="812.24" cy="853.56" r="3.25"/><circle cx="819.44" cy="853.56" r="3.25"/><circle cx="825.74" cy="853.56" r="3.25"/><circle cx="833.84" cy="853.56" r="3.25"/></g>
<path d="M48,773.5 H838" fill="none" stroke="#000" stroke-width="1.65" stroke-dasharray="9.5 9.25"/>
<path d="M839.5,773.5 H876" fill="none" stroke="#000" stroke-width="1.2"/>
<path d="M880.4,773.5 L873,769.6 L875.2,773.5 L873,777.4 Z" fill="#000"/>
<path d="M47.3,640 V925.15 H837.1" fill="none" stroke="#000" stroke-width="1.6"/>
<text x="447.2" y="952" font-size="17.8" text-anchor="middle" fill="#000">Chromosome</text>
<text x="930.5" y="768.6" font-size="17.7" text-anchor="middle" fill="#000">Significance</text>
<text x="930.2" y="788.8" font-size="17.7" text-anchor="middle" fill="#000">threshold</text>
<text transform="translate(31.6,782) rotate(-90)" font-size="17.2" text-anchor="middle" fill="#000" textLength="118" lengthAdjust="spacingAndGlyphs">-log<tspan font-size="9.6" dy="6.2">10</tspan><tspan dy="-6.2"> (P value)</tspan></text>
<g fill="#333" stroke="#333" stroke-width="0.45" font-size="17.6"><text transform="translate(29.1,983.3) rotate(-90)" textLength="102.6" lengthAdjust="spacingAndGlyphs">Adobe Stock</text><text transform="translate(29.1,873.6) rotate(-90)">|</text><text transform="translate(29.1,862.6) rotate(-90)" textLength="94.4" lengthAdjust="spacingAndGlyphs">#509165576</text></g>
<defs><filter id="wm" x="-10%" y="-60%" width="120%" height="220%" color-interpolation-filters="sRGB"><feGaussianBlur in="SourceAlpha" stdDeviation="3.6" result="b"/><feComponentTransfer in="b" result="h0"><feFuncA type="linear" slope="0.078"/></feComponentTransfer><feComposite in="h0" in2="SourceAlpha" operator="out" result="halo"/><feFlood flood-color="#fff" flood-opacity="0.08"/><feComposite in2="SourceAlpha" operator="in" result="w"/><feMerge><feMergeNode in="halo"/><feMergeNode in="w"/></feMerge></filter></defs>
<g font-size="25" font-weight="bold" text-anchor="middle" fill="#000" filter="url(#wm)"><text transform="translate(-52.5,284.6) rotate(-45)" y="8.6" textLength="151" lengthAdjust="spacingAndGlyphs">Adobe Stock</text><text transform="translate(-42.3,618.3) rotate(-45)" y="8.6" textLength="151" lengthAdjust="spacingAndGlyphs">Adobe Stock</text><text transform="translate(-32.1,952) rotate(-45)" y="8.6" textLength="151" lengthAdjust="spacingAndGlyphs">Adobe Stock</text><text transform="translate(63.2,-6.2) rotate(-45)" y="8.6" textLength="151" lengthAdjust="spacingAndGlyphs">Adobe Stock</text><text transform="translate(73.4,327.5) rotate(-45)" y="8.6" textLength="151" lengthAdjust="spacingAndGlyphs">Adobe Stock</text><text transform="translate(83.6,661.2) rotate(-45)" y="8.6" textLength="151" lengthAdjust="spacingAndGlyphs">Adobe Stock</text><text transform="translate(93.8,994.9) rotate(-45)" y="8.6" textLength="151" lengthAdjust="spacingAndGlyphs">Adobe Stock</text><text transform="translate(108,121.7) rotate(-45)" y="8.6" textLength="151" lengthAdjust="spacingAndGlyphs">Adobe Stock</text><text transform="translate(118.2,455.4) rotate(-45)" y="8.6" textLength="151" lengthAdjust="spacingAndGlyphs">Adobe Stock</text><text transform="translate(128.4,789.1) rotate(-45)" y="8.6" textLength="151" lengthAdjust="spacingAndGlyphs">Adobe Stock</text><text transform="translate(233.9,164.6) rotate(-45)" y="8.6" textLength="151" lengthAdjust="spacingAndGlyphs">Adobe Stock</text><text transform="translate(244.1,498.3) rotate(-45)" y="8.6" textLength="151" lengthAdjust="spacingAndGlyphs">Adobe Stock</text><text transform="translate(254.3,832) rotate(-45)" y="8.6" textLength="151" lengthAdjust="spacingAndGlyphs">Adobe Stock</text><text transform="translate(268.5,-41.2) rotate(-45)" y="8.6" textLength="151" lengthAdjust="spacingAndGlyphs">Adobe Stock</text><text transform="translate(278.7,292.5) rotate(-45)" y="8.6" textLength="151" lengthAdjust="spacingAndGlyphs">Adobe Stock</text><text transform="translate(288.9,626.2) rotate(-45)" y="8.6" textLength="151" lengthAdjust="spacingAndGlyphs">Adobe Stock</text><text transform="translate(299.1,959.9) rotate(-45)" y="8.6" textLength="151" lengthAdjust="spacingAndGlyphs">Adobe Stock</text><text transform="translate(394.4,1.7) rotate(-45)" y="8.6" textLength="151" lengthAdjust="spacingAndGlyphs">Adobe Stock</text><text transform="translate(404.6,335.4) rotate(-45)" y="8.6" textLength="151" lengthAdjust="spacingAndGlyphs">Adobe Stock</text><text transform="translate(414.8,669.1) rotate(-45)" y="8.6" textLength="151" lengthAdjust="spacingAndGlyphs">Adobe Stock</text><text transform="translate(425,1002.8) rotate(-45)" y="8.6" textLength="151" lengthAdjust="spacingAndGlyphs">Adobe Stock</text><text transform="translate(439.2,129.6) rotate(-45)" y="8.6" textLength="151" lengthAdjust="spacingAndGlyphs">Adobe Stock</text><text transform="translate(449.4,463.3) rotate(-45)" y="8.6" textLength="151" lengthAdjust="spacingAndGlyphs">Adobe Stock</text><text transform="translate(459.6,797) rotate(-45)" y="8.6" textLength="151" lengthAdjust="spacingAndGlyphs">Adobe Stock</text><text transform="translate(565.1,172.5) rotate(-45)" y="8.6" textLength="151" lengthAdjust="spacingAndGlyphs">Adobe Stock</text><text transform="translate(575.3,506.2) rotate(-45)" y="8.6" textLength="151" lengthAdjust="spacingAndGlyphs">Adobe Stock</text><text transform="translate(585.5,839.9) rotate(-45)" y="8.6" textLength="151" lengthAdjust="spacingAndGlyphs">Adobe Stock</text><text transform="translate(599.7,-33.3) rotate(-45)" y="8.6" textLength="151" lengthAdjust="spacingAndGlyphs">Adobe Stock</text><text transform="translate(609.9,300.4) rotate(-45)" y="8.6" textLength="151" lengthAdjust="spacingAndGlyphs">Adobe Stock</text><text transform="translate(620.1,634.1) rotate(-45)" y="8.6" textLength="151" lengthAdjust="spacingAndGlyphs">Adobe Stock</text><text transform="translate(630.3,967.8) rotate(-45)" y="8.6" textLength="151" lengthAdjust="spacingAndGlyphs">Adobe Stock</text><text transform="translate(725.6,9.6) rotate(-45)" y="8.6" textLength="151" lengthAdjust="spacingAndGlyphs">Adobe Stock</text><text transform="translate(735.8,343.3) rotate(-45)" y="8.6" textLength="151" lengthAdjust="spacingAndGlyphs">Adobe Stock</text><text transform="translate(746,677) rotate(-45)" y="8.6" textLength="151" lengthAdjust="spacingAndGlyphs">Adobe Stock</text><text transform="translate(756.2,1010.7) rotate(-45)" y="8.6" textLength="151" lengthAdjust="spacingAndGlyphs">Adobe Stock</text><text transform="translate(770.4,137.5) rotate(-45)" y="8.6" textLength="151" lengthAdjust="spacingAndGlyphs">Adobe Stock</text><text transform="translate(780.6,471.2) rotate(-45)" y="8.6" textLength="151" lengthAdjust="spacingAndGlyphs">Adobe Stock</text><text transform="translate(790.8,804.9) rotate(-45)" y="8.6" textLength="151" lengthAdjust="spacingAndGlyphs">Adobe Stock</text><text transform="translate(896.3,180.4) rotate(-45)" y="8.6" textLength="151" lengthAdjust="spacingAndGlyphs">Adobe Stock</text><text transform="translate(906.5,514.1) rotate(-45)" y="8.6" textLength="151" lengthAdjust="spacingAndGlyphs">Adobe Stock</text><text transform="translate(916.7,847.8) rotate(-45)" y="8.6" textLength="151" lengthAdjust="spacingAndGlyphs">Adobe Stock</text><text transform="translate(930.9,-25.4) rotate(-45)" y="8.6" textLength="151" lengthAdjust="spacingAndGlyphs">Adobe Stock</text><text transform="translate(941.1,308.3) rotate(-45)" y="8.6" textLength="151" lengthAdjust="spacingAndGlyphs">Adobe Stock</text><text transform="translate(951.3,642) rotate(-45)" y="8.6" textLength="151" lengthAdjust="spacingAndGlyphs">Adobe Stock</text><text transform="translate(961.5,975.7) rotate(-45)" y="8.6" textLength="151" lengthAdjust="spacingAndGlyphs">Adobe Stock</text><text transform="translate(1056.8,17.5) rotate(-45)" y="8.6" textLength="151" lengthAdjust="spacingAndGlyphs">Adobe Stock</text></g>
</svg></body></html>
